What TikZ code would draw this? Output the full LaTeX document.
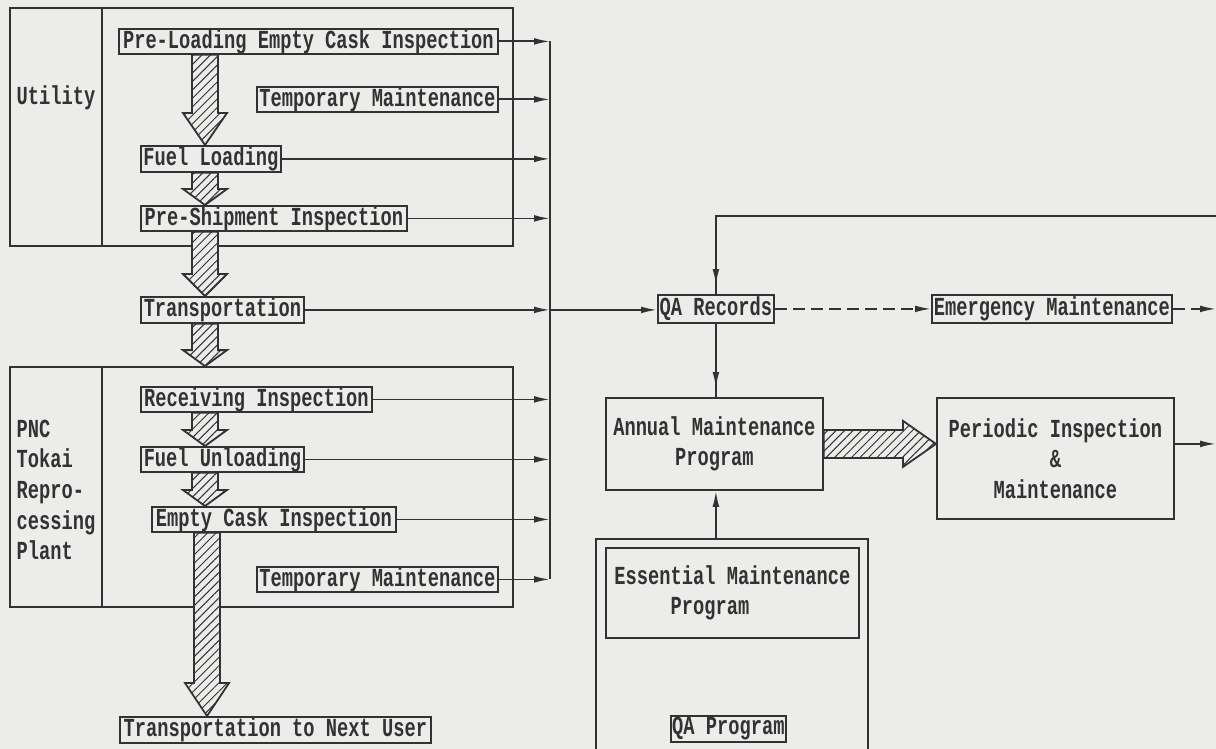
\documentclass[tikz,border=0pt]{standalone}
\usepackage{fontspec}
\newfontfamily\plotfont[FakeStretch=0.72]{Liberation Mono}
\usetikzlibrary{positioning}
\usetikzlibrary{calc}
\usetikzlibrary{arrows.meta}
\usetikzlibrary{fit}
\usetikzlibrary{patterns.meta}
\usetikzlibrary{decorations.markings}
\definecolor{paper}{RGB}{236,236,234}
\definecolor{ink}{RGB}{50,50,50}

\tikzset{
  box/.style={draw=ink, line width=0.9pt, inner xsep=0pt, inner ysep=0pt, anchor=north west, text=ink},
  panel/.style={draw=ink, line width=0.9pt, inner sep=0pt},
  wire/.style={draw=ink, line width=0.9pt},
  link/.style={wire, -{Latex[length=8pt,width=3.4pt]}},
  dashlink/.style={dash pattern=on 6pt off 3pt},
  midarrow/.style={wire, postaction={decorate},
    decoration={markings, mark=at position -4.5pt with {\arrow{Latex[length=8pt,width=3.4pt]}}}},
  fatarr/.style={draw=ink, line width=0.9pt, fill=paper,
    postaction={pattern={Lines[angle=45,distance=3pt,line width=0.5pt]}, pattern color=ink}},
}

% hatched block arrows: start, tip, head length
\newcommand{\fatdown}[3]{%
  \draw[fatarr] let \p1=#1, \p2=#2 in
    (\x1-6.5pt,\y1) -- (\x1-6.5pt,\y2+#3) -- (\x1-11pt,\y2+#3) -- (\x1,\y2)
    -- (\x1+11pt,\y2+#3) -- (\x1+6.5pt,\y2+#3) -- (\x1+6.5pt,\y1) -- cycle;
}
\newcommand{\fatright}[3]{%
  \draw[fatarr] let \p1=#1, \p2=#2 in
    (\x1,\y1+7pt) -- (\x2-#3,\y1+7pt) -- (\x2-#3,\y1+11.5pt) -- (\x2,\y1)
    -- (\x2-#3,\y1-11.5pt) -- (\x2-#3,\y1-7pt) -- (\x1,\y1-7pt) -- cycle;
}

\begin{document}
\begin{tikzpicture}[x=0.5pt, y=-0.5pt, every node/.style={font=\plotfont\bfseries\fontsize{13}{15.3}\selectfont, text=ink}]
    \fill[paper] (0,0) rectangle (1216,749);
    \useasboundingbox (0,0) rectangle (1216,749);

    % organisations
    \node[panel, fit={(10,8) (513,246)}] (utilframe) {};
    \draw[wire] (102,8) -- (102,246);
    \node (utility) at (56,98) {Utility};
    \node[panel, fit={(10,367) (513,607)}] (pncframe) {};
    \draw[wire] (102,367) -- (102,607);
    \node[align=left] (pnc) at (56,490) {PNC\\Tokai\\Repro-\\cessing\\Plant};

    % steps
    \node[box, minimum width=189.5pt, minimum height=12.5pt] (preload) at (118,28) {Pre-Loading Empty Cask Inspection};
    \node[box, minimum width=120.5pt, minimum height=12.5pt] (tma) at (256,86) {Temporary Maintenance};
    \node[box, minimum width=70pt, minimum height=13pt] (fuelload) at (140,145) {Fuel Loading};
    \node[box, minimum width=133pt, minimum height=12.5pt] (preship) at (140,205) {Pre-Shipment Inspection};
    \node[box, minimum width=81.5pt, minimum height=13pt] (transp) at (140,296) {Transportation};
    \node[box, minimum width=115.5pt, minimum height=12.5pt] (recv) at (140,386) {Receiving Inspection};
    \node[box, minimum width=81.5pt, minimum height=12.5pt] (fuelunload) at (140,446) {Fuel Unloading};
    \node[box, minimum width=122pt, minimum height=12.5pt] (emptyck) at (151,506) {Empty Cask Inspection};
    \node[box, minimum width=120.5pt, minimum height=12.5pt] (tmb) at (256,566) {Temporary Maintenance};
    \node[box, minimum width=155.5pt, minimum height=13pt] (nextuser) at (119,716) {Transportation to Next User};

    % maintenance side
    \node[box, minimum width=58pt, minimum height=14pt] (qarec) at (657,294) {QA Records};
    \node[box, minimum width=120pt, minimum height=14pt] (emerg) at (931,294) {Emergency Maintenance};
    \node[box, minimum width=108.5pt, minimum height=46pt, align=center] (annual) at (605,397) {Annual Maintenance\\Program};
    \node[box, minimum width=118.5pt, minimum height=60.5pt, align=center] (periodic) at (936,397) {Periodic Inspection\\\&\\Maintenance};
    \node[panel, fit={(596,539) (868,770)}] (essframe) {};
    \node[box, minimum width=126.5pt, minimum height=45pt, align=left] (essential) at (605,547) {Essential Maintenance\\\phantom{Essen}Program};
    \node[box, minimum width=57.5pt, minimum height=13pt] (qaprog) at (670,715) {QA Program};

    % records bus
    \coordinate (bus) at (550,0);
    \coordinate (edge) at (1216,0);
    \coordinate (topin) at (1216,216);
    \draw[wire] (preload.east -| bus) -- (tmb.east -| bus);
    \foreach \n in {preload,tma,fuelload,preship,transp,recv,fuelunload,emptyck,tmb} {
        \draw[link] (\n.east) -- (\n.east -| bus);
    }
    \draw[link] (transp.east -| bus) -- (transp.east -| qarec.west);

    \draw[midarrow] (topin) -| (qarec.north);
    \draw[midarrow] (qarec.south) -- (annual.north -| qarec.south);
    \draw[link] (essframe.north -| qarec.south) -- (annual.south -| qarec.south);
    \draw[link, dashlink] (qarec.east) -- (emerg.west);
    \draw[link, dashlink] (emerg.east) -- (emerg.east -| edge);
    \draw[link] (periodic.east |- annual.east) -- (annual.east -| edge);

    % flow of the cask
    \coordinate (spine) at (205,0);
    \coordinate (spineb) at (207,0);
    \fatdown{(preload.south -| spine)}{(fuelload.north -| spine)}{16pt}
    \fatdown{(fuelload.south -| spine)}{(preship.north -| spine)}{8pt}
    \fatdown{(preship.south -| spine)}{(transp.north -| spine)}{11pt}
    \fatdown{(transp.south -| spine)}{(pncframe.north -| spine)}{8pt}
    \fatdown{(recv.south -| spine)}{(fuelunload.north -| spine)}{8pt}
    \fatdown{(fuelunload.south -| spine)}{(emptyck.north -| spine)}{8pt}
    \fatdown{(emptyck.south -| spineb)}{(nextuser.north -| spineb)}{16.5pt}
    \fatright{(annual.east)}{(periodic.west |- annual.east)}{16.5pt}
\end{tikzpicture}
\end{document}
